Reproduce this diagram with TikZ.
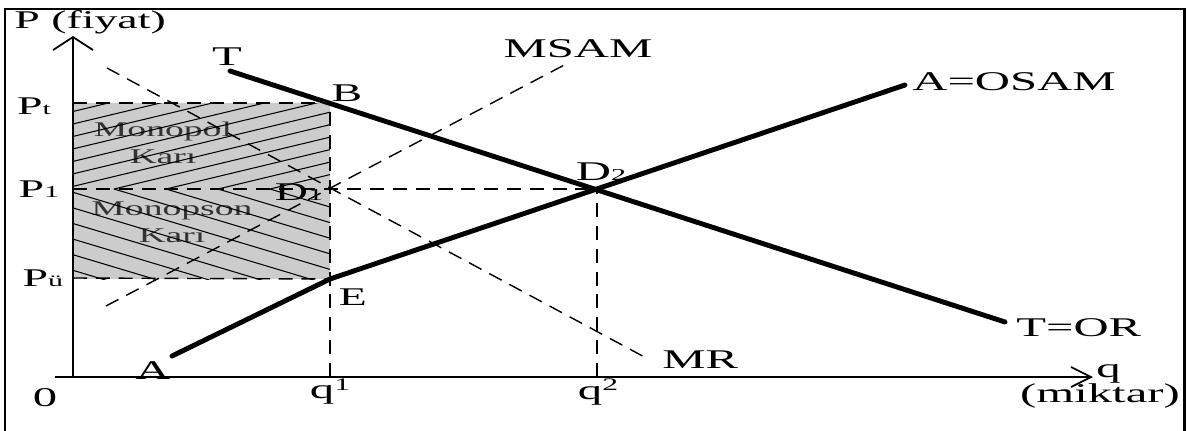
\documentclass[tikz,border=0pt]{standalone}
\usepackage{fontspec}
\setmainfont{Liberation Serif}[FakeStretch=1.8]
\usetikzlibrary{arrows.meta}
\pgfdeclarelayer{background}
\pgfdeclarelayer{edgelayer}
\pgfdeclarelayer{nodelayer}
\pgfsetlayers{background,edgelayer,nodelayer,main}
\tikzstyle{none}=[inner sep=0mm]
\tikzstyle{lbl}=[inner sep=0mm,font=\fontsize{15.4}{16}\selectfont]
\tikzstyle{small lbl}=[inner sep=0mm,font=\fontsize{14.5}{15}\selectfont]
\tikzstyle{area lbl}=[inner sep=0mm,align=center,text=black!80,font=\fontsize{11.9}{15.3}\selectfont]
\tikzstyle{curve}=[line width=2.8pt,line cap=round]
\tikzstyle{guide}=[line width=0.8pt,dash pattern=on 8pt off 5pt]
\tikzstyle{hatch}=[line width=0.6pt]
\tikzstyle{axis}=[line width=1pt]
\tikzstyle{frame}=[line width=1.7pt]
\tikzstyle{xaxis tip}=[-{Straight Barb[length=0.4cm,width=0.4cm,line width=1pt]}]
\tikzstyle{yaxis tip}=[-{Straight Barb[length=0.26cm,width=0.8cm,line width=1pt]}]
\newcommand{\smalltxt}[1]{{\fontsize{9.5}{9.5}\selectfont #1}}
\newcommand{\uptxt}[1]{\raisebox{0.3em}{\fontsize{10}{10}\selectfont #1}}

\begin{document}
\begin{tikzpicture}[x=0.02cm,y=-0.02cm]
	\useasboundingbox (0,0) rectangle (1188,430);
	% points of the diagram
	\coordinate (O) at (73,377);
	\coordinate (xend) at (1093,377);
	\coordinate (xstart) at (55,377);
	\coordinate (yend) at (73,36);
	\coordinate (Pt) at (73,103);
	\coordinate (P1) at (73,189);
	\coordinate (Pu) at (73,278);
	\coordinate (q1) at (330,377);
	\coordinate (q2) at (597,377);
	\coordinate (B) at (330,103);
	\coordinate (D1) at (330,189);
	\coordinate (D2) at (597,189);
	\coordinate (E) at (330,279);
	\coordinate (T0) at (230,71);
	\coordinate (Tend) at (1005,322);
	\coordinate (A0) at (172,356);
	\coordinate (Aend) at (905,85);
	\coordinate (ms0) at (106,306);
	\coordinate (ms1) at (570,62);
	\coordinate (mr0) at (107,68);
	\coordinate (mr1) at (650,360);
	\begin{pgfonlayer}{background}
		\fill[white] (0,0) rectangle (1188,430);
		\fill[gray!40] (Pt) rectangle (E);
		\node [style=area lbl] (monopol) at (163,143) {Monopol\\Karı};
		\node [style=area lbl] (monopson) at (172,222) {Monopson\\Karı};
	\end{pgfonlayer}
	\draw[frame] (5,432) -- (5,9) -- (1184,9) -- (1184,432);
	\begin{pgfonlayer}{nodelayer}
		\node [style=small lbl,anchor=west] (fiyat) at (14,22) {P (fiyat)};
		\node [style=small lbl] (lPt) at (34,106) {P\smalltxt{t}};
		\node [style=small lbl] (lP1) at (39,189) {P\smalltxt{1}};
		\node [style=small lbl] (lPu) at (43,278) {P\smalltxt{ü}};
		\node [style=lbl] (lO) at (45,398) {0};
		\node [style=lbl] (lq1) at (330,392) {q\uptxt{1}};
		\node [style=lbl] (lq2) at (598,392) {q\uptxt{2}};
		\node [style=lbl,anchor=west] (lq) at (1096,374) {q};
		\node [style=lbl] (miktar) at (1100,396) {(miktar)};
		\node [style=lbl] (lT) at (227,57) {T};
		\node [style=small lbl] (lB) at (347,93) {B};
		\node [style=small lbl] (lE) at (353,297) {E};
		\node [style=small lbl] (lD1) at (299,192) {D\smalltxt{1}};
		\node [style=lbl] (lD2) at (601,172) {D\smalltxt{2}};
		\node [style=lbl] (lA) at (153,371) {A};
		\node [style=lbl] (lMSAM) at (578,49) {MSAM};
		\node [style=lbl,anchor=west] (lOSAM) at (912,82) {A=OSAM};
		\node [style=lbl,anchor=west] (lOR) at (1016,328) {T=OR};
		\node [style=lbl,anchor=west] (lMR) at (662,360) {MR};
	\end{pgfonlayer}
	\begin{pgfonlayer}{edgelayer}
		% hatching of the two profit areas
		\begin{scope}
			\clip (Pt) rectangle (D1);
			\foreach \c in {270,218,...,-430}
				\draw[style=hatch] (\c,189) -- ++(600,-144);
		\end{scope}
		\begin{scope}
			\clip (P1) rectangle (E);
			\foreach \c in {270,218,...,-430}
				\draw[style=hatch] (\c,189) -- ++(600,180);
		\end{scope}
		\draw[style=axis,style=xaxis tip] (xstart) to (xend);
		\draw[style=axis,style=yaxis tip] (O) to (yend);
		\draw[style=guide] (Pt) to (B);
		\draw[style=guide] (P1) to (D2);
		\draw[style=guide] (Pu) to (E);
		\draw[style=guide] (q1) to (B);
		\draw[style=guide] (q2) to (D2);
		\draw[style=guide] (ms0) to (ms1);
		\draw[style=guide] (mr0) to (mr1);
		\draw[style=curve] (T0) to (Tend);
		\draw[style=curve] (A0) -- (E) -- (Aend);
	\end{pgfonlayer}
\end{tikzpicture}
\end{document}
